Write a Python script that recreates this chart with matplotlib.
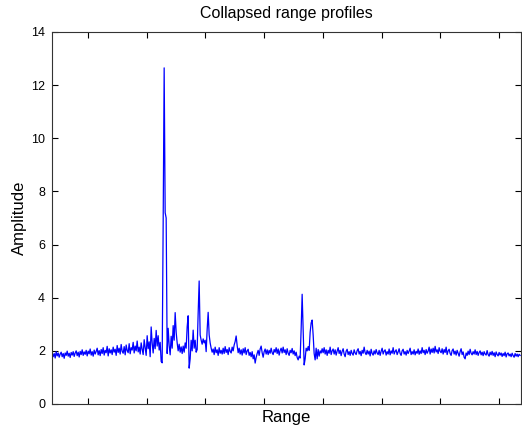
import numpy as np
import matplotlib
matplotlib.use("Agg")
import matplotlib.pyplot as plt

plt.rcParams['font.family'] = ['Liberation Sans', 'DejaVu Sans']

# Amplitude samples, left to right
amplitude = [
    1.92,1.78,1.90,1.73,1.97,1.81,1.92,1.76,1.88,1.95,
    1.78,1.90,1.72,1.92,1.83,1.99,1.80,1.91,1.75,1.94,
    1.84,1.97,1.79,1.92,2.00,1.82,1.95,1.77,1.98,1.86,
    2.04,1.83,1.96,1.87,2.02,1.81,1.99,1.89,2.07,1.84,
    1.97,1.80,2.03,1.88,1.98,2.10,1.85,2.01,1.82,2.05,
    1.90,2.12,1.84,2.02,1.93,2.17,1.81,2.08,1.92,2.04,
    1.86,2.14,1.95,2.06,1.83,2.20,1.94,2.10,1.88,2.24,
    1.98,1.91,2.16,1.85,2.22,2.01,1.93,2.27,1.89,2.12,
    2.03,2.32,1.92,2.18,2.00,2.37,1.96,2.14,1.88,2.30,
    2.06,1.86,2.42,2.13,1.83,2.57,2.08,2.34,1.78,2.90,
    2.30,1.92,2.47,2.08,2.77,2.18,2.57,2.03,2.32,1.60,
    1.55,6.80,12.65,7.20,7.00,1.90,2.85,2.20,1.85,2.55,
    2.10,2.95,2.40,3.44,2.70,2.30,2.00,2.25,1.95,2.15,
    1.90,2.18,1.95,2.30,2.10,2.90,3.32,1.35,1.70,2.40,
    2.00,2.78,2.10,2.40,1.95,2.05,3.42,4.63,2.60,2.40,
    2.25,2.45,2.30,2.40,1.97,2.80,3.45,2.60,2.30,2.10,
    1.95,
    2.07,1.86,2.14,1.93,2.04,1.83,2.12,1.91,2.02,1.88,
    2.10,1.90,2.16,1.94,2.05,1.86,2.12,1.98,1.92,2.14,
    2.00,2.22,2.35,2.56,2.20,1.93,2.10,1.88,2.04,1.84,
    2.08,1.92,2.12,1.86,2.00,2.06,1.83,1.94,1.78,1.97,
    1.70,1.85,1.54,1.75,1.90,2.02,1.83,2.07,2.18,1.93,
    1.76,1.97,2.07,1.88,2.04,1.86,2.02,1.91,2.10,1.93,
    1.86,2.05,1.95,2.12,1.90,2.07,1.84,2.01,2.10,1.92,
    2.14,1.94,2.04,1.86,2.08,1.91,1.83,2.02,1.93,2.09,
    1.88,2.00,1.82,1.95,1.75,1.66,1.80,1.73,2.82,4.13,
    2.80,1.47,1.70,2.10,2.00,2.16,2.02,2.70,3.05,3.16,
    2.60,1.90,1.66,2.10,1.70,2.05,1.80,2.00,1.92,2.08,
    1.93,2.12,1.88,2.04,1.83,2.02,1.91,2.14,1.86,2.00,
    2.07,1.88,2.04,1.84,1.99,2.12,1.90,2.02,1.82,1.98,
    2.08,1.88,1.78,1.99,2.06,1.86,1.97,1.83,2.02,1.90,
    1.84,2.04,1.92,1.86,2.01,2.08,1.88,1.98,1.82,2.02,
    1.91,2.14,1.93,1.86,2.02,1.88,1.99,1.81,2.06,1.90,
    1.84,2.00,1.88,2.05,1.92,1.86,2.02,1.83,1.98,2.10,
    1.88,1.99,2.04,1.84,1.97,1.88,2.07,1.85,2.00,1.91,
    2.12,1.88,1.98,2.04,1.86,1.96,2.08,1.90,1.83,2.00,
    2.06,1.88,1.97,1.84,2.02,1.90,1.99,2.10,1.86,1.97,
    1.88,2.04,1.85,1.98,1.91,2.07,1.87,2.00,1.90,2.12,
    1.93,2.02,1.86,2.05,1.91,1.99,2.14,1.88,2.07,1.94,
    2.10,1.92,2.17,1.96,2.04,1.90,2.12,1.98,1.93,2.08,
    1.88,2.05,1.94,2.14,1.86,2.00,2.06,1.90,1.83,2.01,
    2.07,1.88,1.99,1.84,2.02,1.91,1.80,1.97,2.08,1.86,
    1.96,1.76,1.70,1.92,1.83,1.99,1.86,2.06,1.91,1.85,
    1.97,1.88,2.04,1.86,1.98,1.83,1.94,2.00,1.85,1.95,
    1.82,1.97,1.88,1.84,2.01,1.86,1.80,1.95,1.85,1.98,
    1.83,1.93,1.78,1.96,1.86,1.81,1.94,1.84,1.92,1.79,
    1.90,1.82,1.95,1.77,1.89,1.92,1.81,1.88,1.78,1.91,
    1.82,1.76,1.90,1.80,1.88,1.78,1.87,1.83,
]
range_start, range_end = 39, 836
x_ticks = [100, 200, 300, 400, 500, 600, 700, 800]
y_ticks = [0, 2, 4, 6, 8, 10, 12, 14]

rng = np.linspace(range_start, range_end, len(amplitude))

fig = plt.figure(figsize=(5.22, 4.33), dpi=100)
ax = fig.add_axes([52/522, 1 - 404/433, (521 - 52)/522, (404 - 32)/433])
ax.plot(rng, amplitude, color=(0, 0, 1), linewidth=0.9)
ax.set_xlim(38.7, 837.5)
ax.set_ylim(0, 14)
ax.set_xticks(x_ticks)
ax.set_xticklabels([])
ax.set_yticks(y_ticks)
ax.set_yticklabels([str(v) for v in y_ticks])
ax.tick_params(direction='in', top=True, right=True, length=4, width=0.8,
               labelsize=9, colors='black', pad=5)
for s in ax.spines.values():
    s.set_linewidth(0.8)
    s.set_color('#333333')
ax.set_title('Collapsed range profiles', fontsize=11.5, pad=10)
ax.set_xlabel('Range', fontsize=12, labelpad=-1)
ax.set_ylabel('Amplitude', fontsize=12, labelpad=3)
fig.savefig('out.png', dpi=100)
